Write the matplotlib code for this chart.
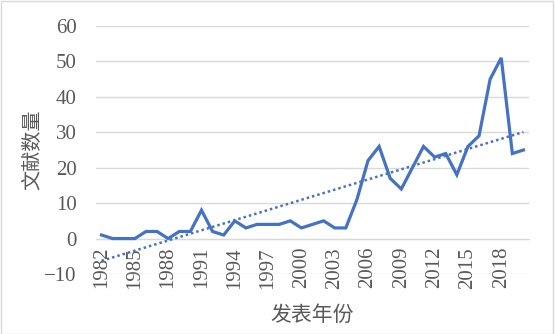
import matplotlib
matplotlib.use("Agg")
import matplotlib.pyplot as plt
import numpy as np
from matplotlib.patches import Rectangle

years = list(range(1982, 2021))
counts = [1, 0, 0, 0, 2, 2, 0, 2, 2, 8,
          2, 1, 5, 3, 4, 4, 4, 5, 3, 4,
          5, 3, 3, 11, 22, 26, 17, 14, 20, 26,
          23, 24, 18, 26, 29, 45, 51, 24, 25]
xtick_years = list(range(1982, 2021, 3))
yticks = [-10, 0, 10, 20, 30, 40, 50, 60]

W, H = 555, 334
fig = plt.figure(figsize=(W / 100, H / 100), dpi=100)
ax = fig.add_axes([96 / W, 1 - 274 / H, (529 - 96) / W, (274 - 26) / H])

x = np.array(years, dtype=float)
y = np.array(counts, dtype=float)
ax.plot(x, y, color="#4472C4", lw=2.3, solid_joinstyle="miter", zorder=3)
k, b = np.polyfit(x, y, 1)
ax.plot(x, k * x + b, color="#4472C4", lw=1.8, linestyle=(0, (1, 1.2)), zorder=3)

ax.set_xlim(1981.5, 2020.5)
ax.set_ylim(-10, 60)
ax.set_yticks(yticks)
ax.grid(axis="y", color="#D9D9D9", lw=1)
ax.set_axisbelow(True)
for s in ax.spines.values():
    s.set_visible(False)
ax.spines["bottom"].set_position(("data", 0))
ax.spines["bottom"].set_visible(True)
ax.spines["bottom"].set_color("#D9D9D9")
ax.set_xticks(xtick_years)
ax.set_xticklabels([str(v) for v in xtick_years], rotation=90,
                   fontfamily="Liberation Serif", fontsize=15, color="#595959")
ax.tick_params(axis="x", length=0, pad=6)
ax.tick_params(axis="y", length=0, pad=14)
for t in ax.get_yticklabels():
    t.set_fontfamily("Liberation Serif")
    t.set_fontsize(15)
    t.set_color("#595959")

fig.text(32 / W, 1 - 150 / H, "文献数量", rotation=90, ha="center", va="center",
         fontfamily=["Noto Sans CJK SC", "DejaVu Sans"], fontsize=14.5, color="#595959")
fig.text(312 / W, 1 - 315 / H, "发表年份", ha="center", va="center",
         fontfamily=["Noto Sans CJK SC", "DejaVu Sans"], fontsize=15, color="#595959")

fig.patches.append(Rectangle((0.5 / W, 0.5 / H), 1 - 3 / W, 1 - 1.5 / H,
                             transform=fig.transFigure, fill=False,
                             edgecolor="#D9D9D9", lw=1))

fig.savefig("out.png", dpi=100)
